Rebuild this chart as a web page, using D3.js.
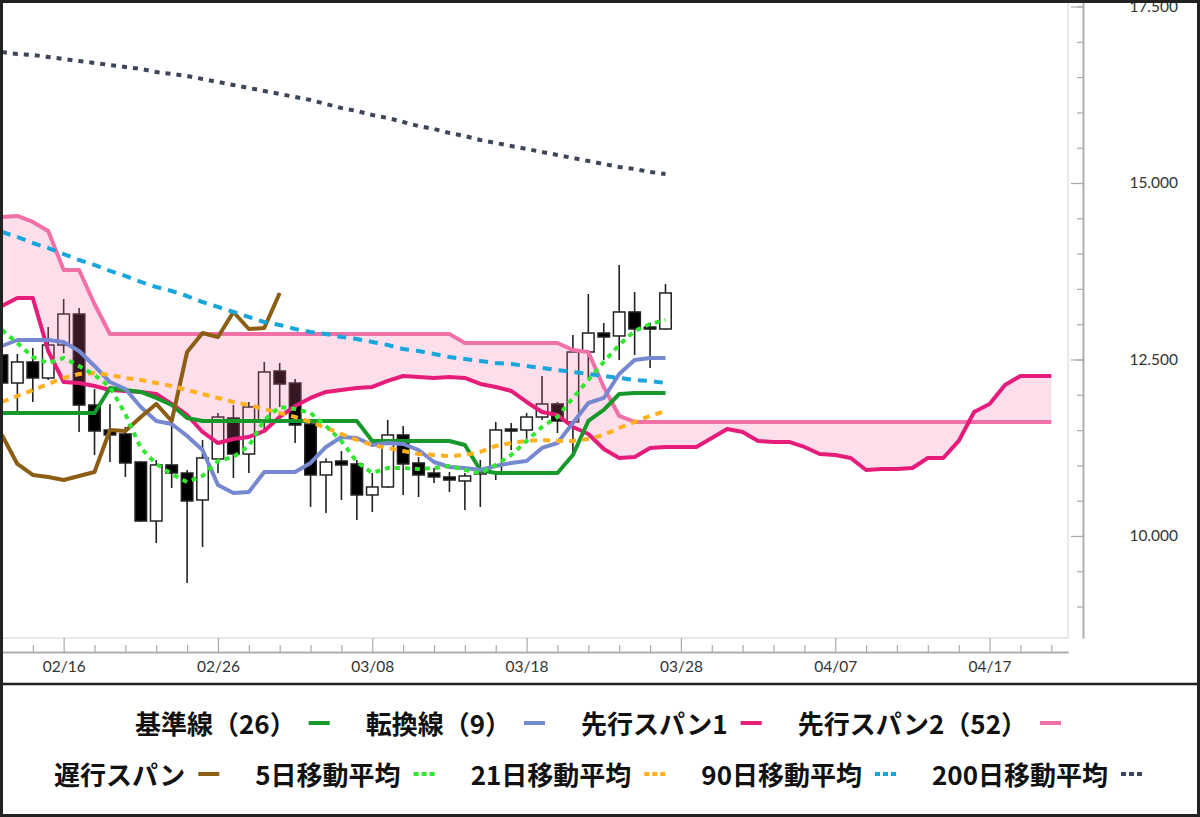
<!DOCTYPE html>
<html>
<head>
<meta charset="utf-8">
<script src="https://cdn.jsdelivr.net/npm/d3@7"></script>
<style>
body { margin: 0; background: #fff; }
svg { display: block; font-family: Lato, "Noto Sans", sans-serif; }
.tick text { fill: #333; font-size: 15.5px; font-family: Lato, "Noto Sans", sans-serif; }
.legend text { font-family: "Noto Sans CJK JP", sans-serif; font-weight: 700; font-size: 26px; fill: #111; }
</style>
</head>
<body>
<div id="chart"></div>
<script>
'use strict';

// data (one value per calendar day from 02/12)
const startDay = '2023-02-12';
const xTickLabels = ['02/16', '02/26', '03/08', '03/18', '03/28', '04/07', '04/17'];
const yTickLabels = [10000, 12500, 15000, 17500];

const open  = [12564, 12167, 12465, 12238, 12705, 13144, 11855, 11501, 11445, 11048, 10212, 11006, 10892, 10510, 11091, 11671, 11161, 11643, 12337, 12167, 11586, 10864, 11062, 11020, 10581, 10694, 11431, 11034, 10892, 10836, 10779, 10878, 10892, 11515, 11501, 11685, 11870, 11615, 12606, 12875, 12833, 13173, 12960, 12932];
const high  = [12650, 12578, 12663, 12960, 13357, 13229, 12082, 11870, 11544, 11060, 11076, 11615, 10935, 11360, 11742, 11855, 11898, 12465, 12450, 12224, 11600, 11100, 11204, 11076, 10892, 11643, 11558, 11119, 10963, 10906, 10892, 11076, 11615, 11600, 11742, 12266, 11898, 12847, 13428, 13017, 13838, 13456, 13017, 13569];
const low   = [12050, 11756, 11898, 12210, 12592, 11473, 11147, 11048, 10836, 10200, 9901, 10680, 9334, 9844, 10892, 10822, 10892, 11501, 11827, 11317, 10411, 10326, 10510, 10227, 10340, 10680, 10581, 10552, 10751, 10623, 10368, 10411, 10793, 11218, 11360, 11643, 11459, 11147, 12238, 12493, 12493, 12564, 12380, 12920];
const close = [12167, 12465, 12238, 12705, 13144, 11855, 11487, 11431, 11034, 10212, 11006, 10892, 10496, 11105, 11685, 11161, 11827, 12323, 12153, 11572, 10864, 11048, 11006, 10581, 10694, 11431, 11020, 10864, 10836, 10793, 10850, 10906, 11501, 11487, 11685, 11870, 11629, 12606, 12875, 12819, 13173, 12932, 12946, 13442];

const kijun  = [11742, 11742, 11742, 11742, 11742, 11742, 11742, 12096, 12068, 12040, 11955, 11856, 11671, 11629, 11629, 11629, 11629, 11629, 11629, 11629, 11629, 11629, 11629, 11629, 11346, 11346, 11346, 11346, 11346, 11346, 11289, 10935, 10892, 10892, 10892, 10892, 10892, 11147, 11629, 11785, 12011, 12026, 12026, 12026];
const tenkan = [12691, 12776, 12776, 12776, 12748, 12620, 12408, 12181, 12082, 11827, 11629, 11586, 11417, 11218, 10722, 10609, 10623, 10907, 10907, 10907, 11034, 11261, 11402, 11388, 11289, 11317, 11303, 11218, 11048, 10977, 10963, 10935, 10992, 11034, 11062, 11247, 11317, 11601, 11884, 11955, 12295, 12493, 12521, 12521];

// leading spans run 25 days past the last candle
const span1 = [13258, 13371, 13371, 12620, 12181, 12167, 12125, 12068, 12054, 12040, 12011, 11870, 11714, 11473, 11317, 11374, 11402, 11487, 11686, 11841, 11955, 12040, 12068, 12096, 12111, 12196, 12266, 12252, 12238, 12252, 12238, 12153, 12111, 12054, 11898, 11756, 11714, 11544, 11445, 11232, 11105, 11119, 11247, 11261, 11261, 11261, 11388, 11516, 11473, 11346, 11332, 11332, 11261, 11162, 11147, 11105, 10935, 10949, 10949, 10963, 11105, 11105, 11346, 11756, 11870, 12139, 12266, 12266, 12266];
const span2 = [14518, 14533, 14448, 14320, 13768, 13768, 13286, 12861, 12861, 12861, 12861, 12861, 12861, 12861, 12861, 12861, 12861, 12861, 12861, 12861, 12861, 12861, 12861, 12861, 12861, 12861, 12861, 12861, 12861, 12861, 12734, 12734, 12734, 12734, 12734, 12734, 12734, 12635, 12606, 12111, 11700, 11615, 11615, 11615, 11615, 11615, 11615, 11615, 11615, 11615, 11615, 11615, 11615, 11615, 11615, 11615, 11615, 11615, 11615, 11615, 11615, 11615, 11615, 11615, 11615, 11615, 11615, 11615, 11615];

const ma5   = [12918, 12734, 12535, 12450, 12521, 12408, 12280, 12111, 11728, 11247, 11020, 10878, 10765, 10850, 11062, 11119, 11275, 11643, 11827, 11799, 11742, 11558, 11346, 11048, 10892, 10963, 10963, 10949, 10963, 10992, 10935, 10892, 11006, 11147, 11346, 11544, 11686, 11955, 12210, 12465, 12705, 12904, 13003, 13060];
const ma21  = [11898, 11983, 12068, 12153, 12238, 12295, 12309, 12280, 12238, 12210, 12167, 12125, 12068, 12011, 11955, 11898, 11856, 11799, 11742, 11686, 11615, 11530, 11445, 11360, 11289, 11247, 11204, 11162, 11147, 11133, 11147, 11190, 11275, 11317, 11346, 11360, 11346, 11346, 11374, 11431, 11530, 11615, 11700, 11771];
const ma90  = [14306, 14235, 14150, 14079, 13994, 13909, 13839, 13754, 13683, 13598, 13527, 13470, 13399, 13314, 13244, 13173, 13102, 13031, 12989, 12932, 12890, 12861, 12819, 12790, 12748, 12705, 12649, 12620, 12578, 12535, 12507, 12479, 12450, 12436, 12408, 12380, 12351, 12323, 12295, 12266, 12238, 12210, 12196, 12167];
const ma200 = [16855, 16827, 16813, 16785, 16756, 16728, 16700, 16671, 16643, 16615, 16572, 16544, 16516, 16473, 16431, 16388, 16346, 16303, 16261, 16218, 16176, 16119, 16062, 16020, 15963, 15921, 15864, 15807, 15765, 15708, 15666, 15609, 15567, 15524, 15482, 15439, 15397, 15354, 15312, 15269, 15227, 15198, 15156, 15128];

// lagging span: the closes moved back 25 days
const chikou = close.slice(25);

const legendRow1 = ['基準線（26）', '転換線（9）', '先行スパン1', '先行スパン2（52）'];
const legendRow2 = ['遅行スパン', '5日移動平均', '21日移動平均', '90日移動平均', '200日移動平均'];

// styles
const style = {
	'基準線（26）':     { color: '#16982a', dash: null },
	'転換線（9）':      { color: '#7688cf', dash: null },
	'先行スパン1':       { color: '#e61c7a', dash: null },
	'先行スパン2（52）': { color: '#f070a8', dash: null },
	'遅行スパン':        { color: '#8c5e14', dash: null },
	'5日移動平均':       { color: '#30e830', dash: '5,5' },
	'21日移動平均':      { color: '#ffb01e', dash: '7,6' },
	'90日移動平均':      { color: '#18a6dc', dash: '9,7' },
	'200日移動平均':     { color: '#3d4658', dash: '5,6' }
};

const W = 1200, H = 817;
const plot = { left: 0, top: 0, right: 1068, bottom: 638 };

const svg = d3.select('#chart').append('svg')
	.attr('width', W)
	.attr('height', H);

const day0 = d3.utcParse('%Y-%m-%d')(startDay);
function dayAt(i) { return d3.utcDay.offset(day0, i); }

const x = d3.scaleTime()
	.domain([d3.utcHour.offset(day0, -3), d3.utcHour.offset(day0, 69 * 24 + 2)])
	.range([plot.left, plot.right]);

const y = d3.scaleLinear()
	.domain([8555, 17592])
	.range([plot.bottom, plot.top]);

svg.append('defs').append('clipPath')
	.attr('id', 'clip')
	.append('rect')
	.attr('x', plot.left).attr('y', plot.top)
	.attr('width', plot.right - plot.left)
	.attr('height', plot.bottom - plot.top);

// plot border
svg.append('path')
	.attr('d', 'M' + plot.left + ',' + plot.bottom + 'H' + plot.right + 'V' + plot.top)
	.attr('fill', 'none')
	.attr('stroke', '#e2e2e2')
	.attr('stroke-width', 1.5);

const g = svg.append('g').attr('clip-path', 'url(#clip)');

// candles
const bodyW = 11.5;
const candles = g.append('g').selectAll('g')
	.data(open)
	.enter().append('g');

candles.append('line')
	.attr('x1', (d, i) => x(dayAt(i)))
	.attr('x2', (d, i) => x(dayAt(i)))
	.attr('y1', (d, i) => y(high[i]))
	.attr('y2', (d, i) => y(low[i]))
	.attr('stroke', '#222')
	.attr('stroke-width', 1.6);

candles.append('rect')
	.attr('x', (d, i) => x(dayAt(i)) - bodyW / 2)
	.attr('y', (d, i) => y(Math.max(open[i], close[i])))
	.attr('width', bodyW)
	.attr('height', (d, i) => Math.max(2, Math.abs(y(open[i]) - y(close[i]))))
	.attr('fill', (d, i) => close[i] >= open[i] ? '#fff' : '#000')
	.attr('stroke', '#222')
	.attr('stroke-width', 1.5);

// cloud
const cloud = d3.area()
	.x((d, i) => x(dayAt(i)))
	.y0(d => y(d))
	.y1((d, i) => y(span2[i]));

g.append('path')
	.datum(span1)
	.attr('d', cloud)
	.attr('fill', 'rgb(240,110,165)')
	.attr('fill-opacity', 0.22);

function drawLine(values, name, width) {
	const line = d3.line()
		.x((d, i) => x(dayAt(i)))
		.y(d => y(d));
	const s = style[name];
	g.append('path')
		.datum(values)
		.attr('d', line)
		.attr('fill', 'none')
		.attr('stroke', s.color)
		.attr('stroke-width', width)
		.attr('stroke-dasharray', s.dash)
		.attr('stroke-linejoin', 'round');
}

drawLine(span2, '先行スパン2（52）', 4);
drawLine(span1, '先行スパン1', 4);
drawLine(kijun, '基準線（26）', 4);
drawLine(tenkan, '転換線（9）', 4);
drawLine(chikou, '遅行スパン', 4);
drawLine(ma200, '200日移動平均', 4);
drawLine(ma90, '90日移動平均', 4);
drawLine(ma21, '21日移動平均', 4);
drawLine(ma5, '5日移動平均', 4);

// x axis
const parseTick = d3.utcParse('%Y/%m/%d');
const year = startDay.slice(0, 4);
const majorTicks = xTickLabels.map(t => parseTick(year + '/' + t));
const minorTicks = d3.utcDay.range(day0, x.domain()[1], 2)
	.filter(d => !majorTicks.some(m => +m === +d));

const axisY = 652;
const xMinor = svg.append('g')
	.attr('transform', 'translate(0,' + axisY + ')')
	.call(d3.axisBottom(x).tickValues(minorTicks).tickSize(-7).tickSizeOuter(0).tickFormat(''));
const xMajor = svg.append('g')
	.attr('transform', 'translate(0,' + axisY + ')')
	.call(d3.axisBottom(x).tickValues(majorTicks).tickSize(-14).tickSizeOuter(0)
		.tickPadding(9).tickFormat(d3.utcFormat('%m/%d')));
[xMinor, xMajor].forEach(a => {
	a.selectAll('path').attr('stroke', '#aaa').attr('stroke-width', 1.5);
	a.selectAll('line').attr('stroke', '#aaa').attr('stroke-width', 1.2);
});

// y axis
const axisX = 1083;
const fmt = d3.formatLocale({ decimal: ',', thousands: '.', grouping: [3], currency: ['', ''] }).format(',');
const yMinor = svg.append('g')
	.attr('transform', 'translate(' + axisX + ',0)')
	.call(d3.axisRight(y).tickValues(d3.range(9000, 17600, 500)).tickSize(-6).tickSizeOuter(0).tickFormat(''));
const yMajor = svg.append('g')
	.attr('transform', 'translate(' + axisX + ',0)')
	.call(d3.axisRight(y).tickValues(yTickLabels).tickSize(-12).tickSizeOuter(0).tickPadding(95).tickFormat(fmt));
yMajor.selectAll('text').attr('text-anchor', 'end');
[yMinor, yMajor].forEach(a => {
	a.selectAll('path').attr('stroke', '#aaa').attr('stroke-width', 1.5);
	a.selectAll('line').attr('stroke', '#aaa').attr('stroke-width', 1.2);
});

// legend
function legendRow(names, cy) {
	const row = svg.append('g').attr('class', 'legend');
	let cx = 0;
	names.forEach(name => {
		const t = row.append('text')
			.attr('x', cx)
			.attr('y', cy)
			.attr('dominant-baseline', 'central')
			.text(name);
		cx += t.node().getComputedTextLength() + 13;
		row.append('line')
			.attr('x1', cx).attr('x2', cx + 21)
			.attr('y1', cy + 1).attr('y2', cy + 1)
			.attr('stroke', style[name].color)
			.attr('stroke-width', 4)
			.attr('stroke-dasharray', style[name].dash ? '5,3' : null);
		cx += 21 + 36;
	});
	const total = cx - 36;
	row.attr('transform', 'translate(' + (598 - total / 2) + ',0)');
}
legendRow(legendRow1, 722);
legendRow(legendRow2, 773);

// frame
svg.append('rect')
	.attr('x', 1.5).attr('y', 1.5)
	.attr('width', W - 3).attr('height', H - 3)
	.attr('fill', 'none')
	.attr('stroke', '#222')
	.attr('stroke-width', 3);
svg.append('line')
	.attr('x1', 0).attr('x2', W)
	.attr('y1', 684).attr('y2', 684)
	.attr('stroke', '#222')
	.attr('stroke-width', 2.5);
</script>
</body>
</html>
